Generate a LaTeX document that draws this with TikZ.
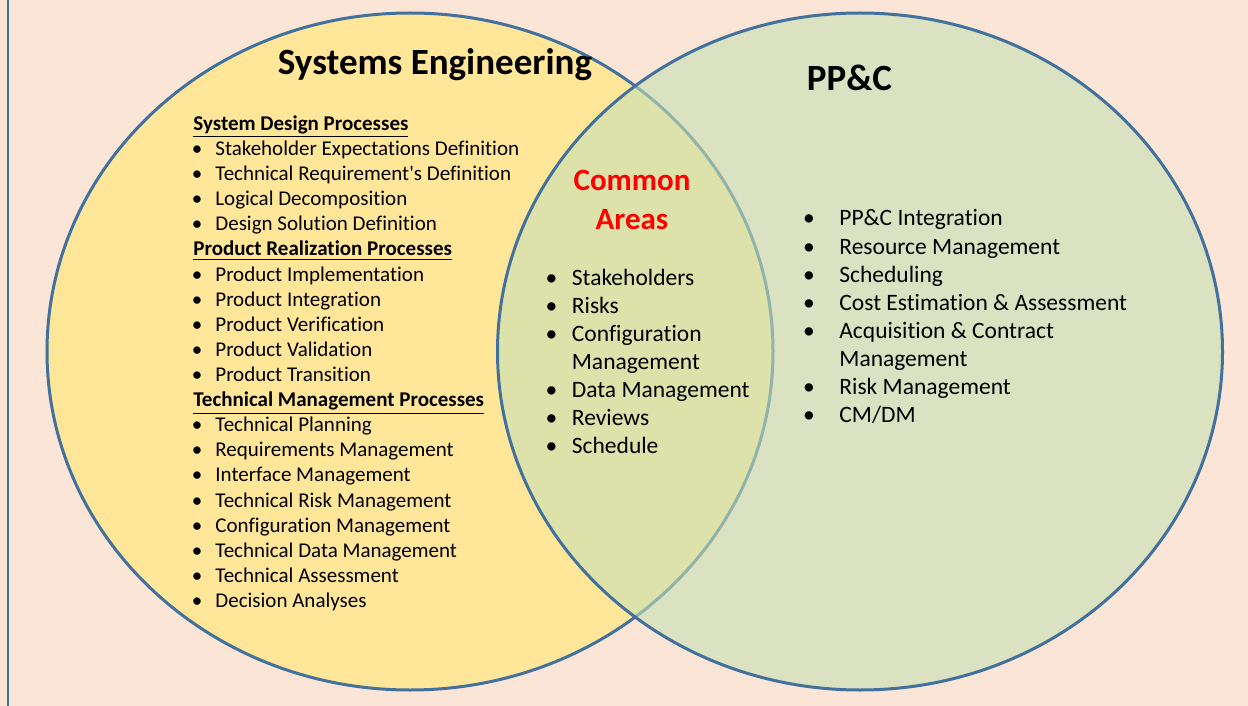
\documentclass[tikz,border=0pt]{standalone}
\usepackage{fontspec}
\setmainfont{Carlito}[Ligatures=NoCommon]
\usetikzlibrary{positioning}
\definecolor{peach}{HTML}{FBE5D6}
\definecolor{seyellow}{HTML}{FFE699}
\definecolor{ppgreen}{HTML}{C5E0B4}
\definecolor{rimblue}{HTML}{41719C}
\newcommand{\bnode}[4]{\node [item] (#1) at (#2) {\llap{\textbullet\hspace{#3}}#4}}
\newcommand{\hnode}[3]{\node [head] (#1) at (#2) {\underline{#3}}}
\newcommand{\wnode}[3]{\node [item] (#1) at (#2) {#3}}

\begin{document}
\begin{tikzpicture}[x=0.5pt,y=-0.5pt,
  item/.style={anchor=base west, inner sep=0pt, font=\fontsize{10.5}{12}\selectfont},
  head/.style={item, font=\fontsize{10.5}{12}\selectfont\bfseries},
  title/.style={anchor=base, inner sep=0pt, font=\fontsize{18.5}{22}\selectfont\bfseries},
  redtitle/.style={anchor=base, inner sep=0pt, text=red, font=\fontsize{15.5}{18}\selectfont\bfseries}]

\useasboundingbox (0,0) rectangle (1248,706);
\fill[peach] (0,0) rectangle (1248,706);
\draw[rimblue, line width=1pt] (8,0) -- (8,706);

% the two circles
\draw[rimblue, line width=1.5pt, fill=seyellow] (410,351.5) ellipse [x radius=363, y radius=338.5];
\fill[ppgreen, fill opacity=0.6] (860,351.5) ellipse [x radius=362.5, y radius=338.5];
\draw[rimblue, line width=1.5pt] (860,351.5) ellipse [x radius=362.5, y radius=338.5];

\node [title] (SE) at (435,75) {Systems Engineering};
\node [title] (PPC) at (849.5,91) {PP\&C};
\node [redtitle] (COM) at (632,191) {Common};
\node [redtitle] (AREA) at (632,229) {Areas};

% systems engineering list
\hnode{SDP}{193,130.5}{System Design Processes};
\bnode{SD1}{215,155.6}{6.5pt}{Stakeholder Expectations Definition};
\bnode{SD2}{215,180.7}{6.5pt}{Technical Requirement\textquotesingle s Definition};
\bnode{SD3}{215,205.8}{6.5pt}{Logical Decomposition};
\bnode{SD4}{215,230.9}{6.5pt}{Design Solution Definition};
\hnode{PRP}{193,256.0}{Product Realization Processes};
\bnode{PR1}{215,281.1}{6.5pt}{Product Implementation};
\bnode{PR2}{215,306.2}{6.5pt}{Product Integration};
\bnode{PR3}{215,331.3}{6.5pt}{Product Verification};
\bnode{PR4}{215,356.4}{6.5pt}{Product Validation};
\bnode{PR5}{215,381.5}{6.5pt}{Product Transition};
\hnode{TMP}{193,406.6}{Technical Management Processes};
\bnode{TM1}{215,431.7}{6.5pt}{Technical Planning};
\bnode{TM2}{215,456.8}{6.5pt}{Requirements Management};
\bnode{TM3}{215,481.9}{6.5pt}{Interface Management};
\bnode{TM4}{215,507.0}{6.5pt}{Technical Risk Management};
\bnode{TM5}{215,532.1}{6.5pt}{Configuration Management};
\bnode{TM6}{215,557.2}{6.5pt}{Technical Data Management};
\bnode{TM7}{215,582.3}{6.5pt}{Technical Assessment};
\bnode{TM8}{215,607.4}{6.5pt}{Decision Analyses};

% common areas list
\begin{scope}[item/.append style={font=\fontsize{11.75}{14}\selectfont}]
\bnode{CA1}{571.5,285}{7.3pt}{Stakeholders};
\bnode{CA2}{571.5,313}{7.3pt}{Risks};
\bnode{CA3}{571.5,341}{7.3pt}{Configuration};
\wnode{CA3b}{571.5,369}{Management};
\bnode{CA4}{571.5,397}{7.3pt}{Data Management};
\bnode{CA5}{571.5,425}{7.3pt}{Reviews};
\bnode{CA6}{571.5,453}{7.3pt}{Schedule};

% pp&c list
\bnode{PC1}{839,226}{12.3pt}{PP\&C Integration};
\bnode{PC2}{839,254}{12.3pt}{Resource Management};
\bnode{PC3}{839,282}{12.3pt}{Scheduling};
\bnode{PC4}{839,310}{12.3pt}{Cost Estimation \& Assessment};
\bnode{PC5}{839,338}{12.3pt}{Acquisition \& Contract};
\wnode{PC5b}{839,366}{Management};
\bnode{PC6}{839,394}{12.3pt}{Risk Management};
\bnode{PC7}{839,422}{12.3pt}{CM/DM};
\end{scope}

\end{tikzpicture}
\end{document}
